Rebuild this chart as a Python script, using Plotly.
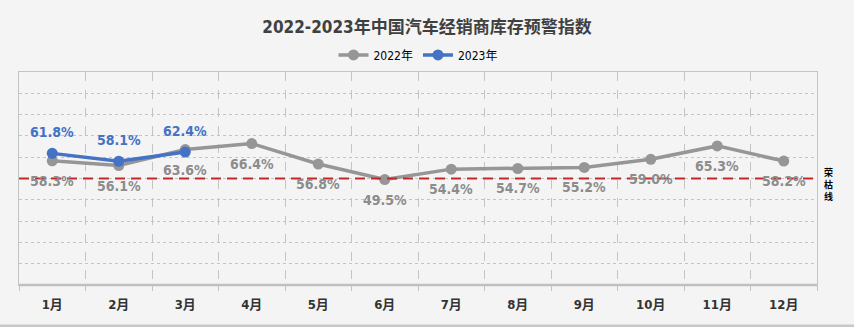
import plotly.graph_objects as go

months = ["1月", "2月", "3月", "4月", "5月", "6月", "7月", "8月", "9月", "10月", "11月", "12月"]
v2022 = [58.3, 56.1, 63.6, 66.4, 56.8, 49.5, 54.4, 54.7, 55.2, 59.0, 65.3, 58.2]
months2023 = ["1月", "2月", "3月"]
v2023 = [61.8, 58.1, 62.4]
threshold = 50
threshold_chars = ["荣", "枯", "线"]
title = "2022-2023年中国汽车经销商库存预警指数"

GRAY = "#969696"
BLUE = "#4472C4"
FONT = "DejaVu Sans Condensed, Liberation Sans Narrow, Noto Sans CJK SC, sans-serif"

fig = go.Figure()
fig.add_trace(go.Scatter(x=months, y=v2022, name="2022年", mode="lines+markers",
                         line=dict(color=GRAY, width=3.5), marker=dict(size=11, color=GRAY)))
fig.add_trace(go.Scatter(x=months2023, y=v2023, name="2023年", mode="lines+markers",
                         line=dict(color=BLUE, width=3.5), marker=dict(size=11, color=BLUE)))

annotations = []
for m, v in zip(months, v2022):
    annotations.append(dict(x=m, y=v, text=f"{v:.1f}%", showarrow=False, yshift=-20,
                            font=dict(family=FONT, size=14, color="#8c8c8c", weight="bold")))
for m, v in zip(months2023, v2023):
    annotations.append(dict(x=m, y=v, text=f"{v:.1f}%", showarrow=False, yshift=21,
                            font=dict(family=FONT, size=14, color=BLUE, weight="bold")))
for i, ch in enumerate(threshold_chars):
    annotations.append(dict(xref="paper", x=1.0, xanchor="left", xshift=6, y=threshold,
                            yshift=6 - 12 * i, text=ch, showarrow=False, borderpad=0,
                            font=dict(family="Noto Sans CJK SC", size=9, color="#000000",
                                      weight="bold")))

fig.add_shape(type="line", xref="paper", x0=0, x1=1, y0=threshold, y1=threshold,
              line=dict(color="#C62828", width=2, dash="10px,6px"), layer="above")
fig.add_shape(type="line", xref="paper", yref="paper", x0=0, x1=1, y0=0, y1=0,
              line=dict(color="#c0c0c0", width=2.5), layer="above")
fig.add_shape(type="rect", xref="paper", yref="paper", x0=-0.1, x1=1.2, y0=-0.2, y1=-0.185,
              line=dict(width=0), fillcolor="#c8c8c8")

fig.update_layout(
    width=854, height=327,
    margin=dict(l=19, r=37, t=72, b=42),
    paper_bgcolor="#f4f4f4", plot_bgcolor="#f4f4f4",
    title=dict(text=title, x=0.5, xanchor="center", y=0.917, yanchor="middle",
               font=dict(family=FONT, size=17, color="#404040", weight="bold")),
    legend=dict(orientation="h", x=0.5, xanchor="center", y=1.08, yanchor="middle",
                font=dict(family=FONT, size=12, color="#000000"),
                bgcolor="rgba(0,0,0,0)", itemwidth=30),
    showlegend=True,
    annotations=annotations,
    xaxis=dict(type="category", tickson="boundaries", showgrid=True, gridcolor="#c4c4c4",
               griddash="dash", gridwidth=1, ticks="outside", ticklen=5, tickcolor="#c4c4c4",
               showline=True, linecolor="#c4c4c4", mirror=True, ticklabelstandoff=7,
               tickfont=dict(family=FONT, size=13, color="#333333", weight="bold"),
               range=[-0.5, 11.5]),
    yaxis=dict(range=[0, 100], dtick=10, showgrid=True, gridcolor="#c4c4c4", griddash="dot",
               showticklabels=False, zeroline=False, showline=True, linecolor="#c4c4c4",
               mirror=True, ticks=""),
)

fig.write_html("out.html")
